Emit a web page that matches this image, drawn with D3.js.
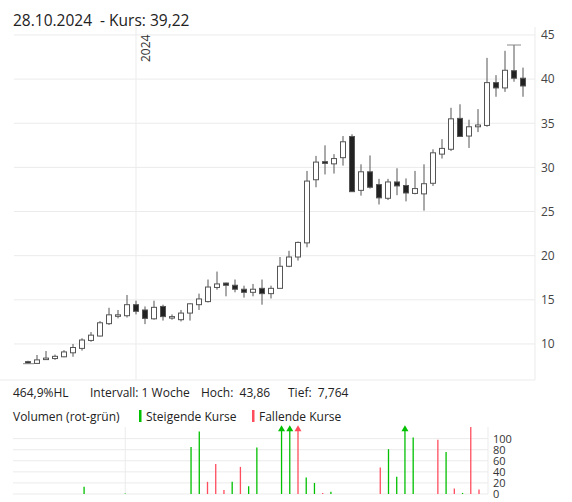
<!DOCTYPE html>
<html><head><meta charset="utf-8">
<script src="https://cdn.jsdelivr.net/npm/d3@7"></script>
<style>body{margin:0;background:#fff}text{font-family:"Open Sans",sans-serif}</style>
</head><body><svg id="c" width="572" height="502"></svg>
<script>
// weekly candles: open, high, low, close
var opens  = [8.0,7.8,8.35,8.35,8.55,9.0,9.5,10.4,10.9,12.3,13.25,13.2,14.45,13.85,12.85,14.25,13.05,12.75,13.5,14.45,14.8,16.4,16.9,16.65,16.2,15.85,16.3,15.7,16.3,18.8,19.85,21.45,28.6,30.65,30.4,31.1,33.5,27.4,29.5,28.05,26.5,28.35,27.95,27.05,27.0,28.2,31.5,32.05,35.55,33.55,34.6,34.75,39.6,39.0,40.95,40.1];
var highs  = [8.1,8.75,9.2,8.8,9.3,10.0,10.65,11.35,12.6,14.1,13.85,15.55,14.9,14.25,14.9,14.45,13.35,13.85,14.6,15.7,17.3,18.2,16.95,17.3,16.6,16.8,17.3,16.6,19.85,20.55,21.6,29.6,31.3,32.5,31.5,33.55,33.75,30.35,31.35,28.7,28.7,29.9,28.75,29.6,30.35,32.05,33.2,36.75,37.15,35.4,36.6,42.4,40.45,43.2,43.86,41.3];
var lows   = [7.764,7.8,8.3,8.2,8.5,8.55,9.25,10.25,10.85,12.15,12.9,13.0,13.35,12.25,12.75,12.65,12.75,12.55,12.65,13.85,14.7,16.15,15.4,15.85,15.25,15.4,14.45,15.15,16.3,18.7,19.45,20.95,27.75,29.2,29.3,30.2,27.25,26.8,27.6,25.8,26.3,26.85,26.15,26.95,25.1,27.9,31.0,31.85,33.5,32.2,34.0,34.6,38.0,38.55,39.7,38.0];
var closes = [7.9,8.2,8.4,8.6,9.1,9.6,10.45,11.0,12.4,13.3,13.3,14.45,13.7,12.9,14.15,13.1,13.1,13.5,14.55,15.1,16.45,16.8,16.65,16.2,15.85,16.2,15.7,16.3,18.8,19.85,21.5,28.45,30.6,30.45,31.0,32.9,27.25,29.5,27.75,26.55,28.35,27.9,27.1,27.6,28.15,31.65,32.15,35.5,33.5,34.6,34.8,39.6,39.0,41.0,40.1,39.22];
// volume per week (values above the scale are drawn clipped with an arrow), colour flag: 1 rising, -1 falling, 0 none
var volumes = [0,0,0,0,0,0,0,13,0,0,0,0,1,0,0,0,0,0,0,0,85,113,22,54,7,22,49,14,84,0,0,150,150,150,30,20,2,4,0,0,0,0,0,48,81,31,150,102,0,0,98,76,10,2,125,8];
var volDir  = [0,0,0,0,0,0,0,1,0,0,0,0,1,0,0,0,0,0,0,0,1,1,-1,-1,-1,1,-1,1,1,0,0,1,1,-1,1,1,-1,1,0,0,0,0,0,-1,1,1,1,1,0,0,-1,1,-1,1,-1,-1];
var priceTicks = [10,15,20,25,30,35,40,45];
var volTicks = [0,20,40,60,80,100];
var yearIndex = 12, yearLabel = "2024";

var svg = d3.select("#c");
var grid = "#ebebeb", ink = "#555";
var idx = d3.range(opens.length);

var x = d3.scaleLinear().domain([0, 55]).range([28, 523]);
var y = d3.scaleLinear().domain([5.92, 45.9]).range([380, 27]);
var xv = d3.scaleLinear().domain([0, 55]).range([26.5, 479]);
var yv = d3.scaleLinear().domain([0, 121]).range([494, 427]);

svg.append("text").attr("x", 13).attr("y", 26).attr("font-size", 15.5).attr("fill", "#222")
  .attr("xml:space", "preserve").text("28.10.2024  - Kurs: 39,22");

// price grid
svg.append("g").selectAll("line").data(priceTicks).enter().append("line")
  .attr("x1", 14).attr("x2", 535).attr("y1", d => y(d)).attr("y2", d => y(d)).attr("stroke", grid);
svg.append("line").attr("x1", x(yearIndex)).attr("x2", x(yearIndex)).attr("y1", 27).attr("y2", 380).attr("stroke", grid);
svg.append("text").attr("transform", "translate(" + (x(yearIndex) + 14) + ",62) rotate(-90)")
  .attr("font-size", 12).attr("fill", "#333").text(yearLabel);
svg.append("line").attr("x1", 535).attr("x2", 535).attr("y1", 27).attr("y2", 380).attr("stroke", grid);
svg.append("line").attr("x1", 0).attr("x2", 535).attr("y1", 380).attr("y2", 380).attr("stroke", grid);
var ya = svg.append("g").attr("transform", "translate(535,0)")
  .call(d3.axisRight(y).tickValues(priceTicks).tickSize(0).tickPadding(6));
ya.select(".domain").remove();
ya.selectAll("text").attr("font-size", 12).attr("fill", "#444").attr("font-family", "Open Sans");

// candles
var c = svg.append("g");
c.selectAll("line.w").data(idx).enter().append("line")
  .attr("x1", i => x(i)).attr("x2", i => x(i)).attr("y1", i => y(highs[i])).attr("y2", i => y(lows[i]))
  .attr("stroke", ink);
c.selectAll("rect").data(idx).enter().append("rect")
  .attr("x", i => x(i) - 2.5).attr("width", 5)
  .attr("y", i => y(Math.max(opens[i], closes[i])))
  .attr("height", i => Math.max(1.5, Math.abs(y(opens[i]) - y(closes[i]))))
  .attr("fill", i => closes[i] < opens[i] ? "#222" : "#fff").attr("stroke", ink);
// low / high markers
var lo = d3.minIndex(lows), hi = d3.maxIndex(highs);
svg.append("line").attr("x1", x(lo) - 5).attr("x2", x(lo) + 6).attr("y1", y(lows[lo])).attr("y2", y(lows[lo])).attr("stroke", "#888");
svg.append("line").attr("x1", x(hi) - 7).attr("x2", x(hi) + 7).attr("y1", y(highs[hi])).attr("y2", y(highs[hi])).attr("stroke", "#888");

// info line
var info = [["464,9%HL", 13], ["Intervall: 1 Woche", 90], ["Hoch:  43,86", 201], ["Tief:  7,764", 288]];
svg.append("g").selectAll("text").data(info).enter().append("text")
  .attr("x", d => d[1]).attr("y", 397).attr("font-size", 12).attr("fill", "#222")
  .attr("xml:space", "preserve").text(d => d[0]);

// legend
svg.append("text").attr("x", 13).attr("y", 421).attr("font-size", 12).attr("fill", "#222").text("Volumen (rot-grün)");
svg.append("rect").attr("x", 139).attr("y", 410).attr("width", 2.5).attr("height", 12).attr("fill", "#00c000");
svg.append("text").attr("x", 146).attr("y", 421).attr("font-size", 12).attr("fill", "#222").text("Steigende Kurse");
svg.append("rect").attr("x", 252).attr("y", 410).attr("width", 2.5).attr("height", 12).attr("fill", "#ff4d5e");
svg.append("text").attr("x", 259).attr("y", 421).attr("font-size", 12).attr("fill", "#222").text("Fallende Kurse");

// volume panel
svg.append("g").selectAll("line").data(volTicks).enter().append("line")
  .attr("x1", 13).attr("x2", 488).attr("y1", d => yv(d)).attr("y2", d => yv(d)).attr("stroke", grid);
svg.append("line").attr("x1", xv(yearIndex)).attr("x2", xv(yearIndex)).attr("y1", 427).attr("y2", 494).attr("stroke", grid);
svg.append("line").attr("x1", 488).attr("x2", 488).attr("y1", 427).attr("y2", 494).attr("stroke", grid);
var va = svg.append("g").attr("transform", "translate(488,0)")
  .call(d3.axisRight(yv).tickValues(volTicks).tickSize(0).tickPadding(5));
va.select(".domain").remove();
va.selectAll("text").attr("font-size", 11).attr("fill", "#333").attr("font-family", "Open Sans");

var col = i => volDir[i] > 0 ? "#00c000" : "#ff4d5e";
var vi = idx.filter(i => volumes[i] > 0);
var volMax = yv.domain()[1];
svg.append("g").selectAll("line").data(vi).enter().append("line")
  .attr("x1", i => xv(i)).attr("x2", i => xv(i)).attr("y1", yv(0))
  .attr("y2", i => yv(Math.min(volumes[i], volumes[i] > 130 ? 117 : volMax)))
  .attr("stroke", col).attr("stroke-width", 1.3);
svg.append("g").selectAll("path").data(vi.filter(i => volumes[i] > 130)).enter().append("path")
  .attr("d", i => "M" + (xv(i) - 3.5) + "," + (yv(117) + 2) + "L" + xv(i) + "," + (yv(117) - 4) + "L" + (xv(i) + 3.5) + "," + (yv(117) + 2) + "Z")
  .attr("fill", col);
</script></body></html>
